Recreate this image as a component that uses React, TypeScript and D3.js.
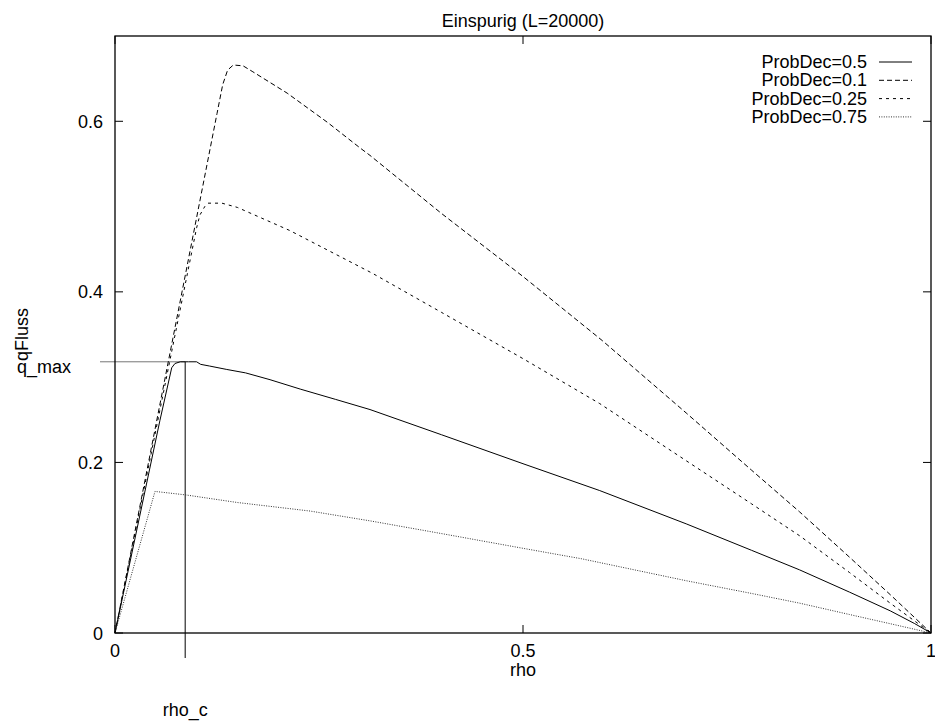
import React from "react";
import * as d3 from "d3";

const title = "Einspurig (L=20000)";
const xLabel = "rho";
const yLabel = "qFluss";
const xTicks = [0, 0.5, 1];
const yTicks = [0, 0.2, 0.4, 0.6];
const xTickLabels = ["0", "0.5", "1"];
const yTickLabels = ["0", "0.2", "0.4", "0.6"];

const rhoC = 0.086;
const qMax = 0.318;

// ProbDec = 0.5 (solid)
const rho05 = [0, 0.055, 0.0695, 0.0735, 0.08, 0.09, 0.1, 0.105, 0.116, 0.137, 0.16, 0.19, 0.227, 0.27, 0.3125, 0.4, 0.5, 0.594, 0.7, 0.78, 0.839, 0.9, 0.95, 0.98, 1];
const q05 = [0, 0.249, 0.311, 0.316, 0.318, 0.318, 0.318, 0.315, 0.313, 0.309, 0.305, 0.297, 0.286, 0.274, 0.262, 0.2325, 0.1985, 0.167, 0.128, 0.097, 0.074, 0.048, 0.026, 0.011, 0];

// ProbDec = 0.1 (dashed)
const rho01 = [0, 0.1, 0.125, 0.132, 0.138, 0.145, 0.157, 0.169, 0.211, 0.26, 0.3, 0.3125, 0.4, 0.5, 0.597, 0.7, 0.78, 0.839, 0.9, 0.95, 1];
const q01 = [0, 0.487, 0.609, 0.643, 0.66, 0.666, 0.665, 0.658, 0.633, 0.599, 0.569, 0.56, 0.492, 0.418, 0.343, 0.258, 0.191, 0.142, 0.089, 0.045, 0];

// ProbDec = 0.25 (short dashes)
const rho025 = [0, 0.1, 0.104, 0.11, 0.114, 0.131, 0.15, 0.214, 0.316, 0.4, 0.5, 0.594, 0.7, 0.78, 0.839, 0.9, 0.95, 1];
const q025 = [0, 0.475, 0.49, 0.5, 0.504, 0.504, 0.499, 0.472, 0.4215, 0.376, 0.3217, 0.269, 0.202, 0.1515, 0.114, 0.071, 0.035, 0];

// ProbDec = 0.75 (dotted)
const rho075 = [0, 0.049, 0.086, 0.15, 0.239, 0.3125, 0.4, 0.5, 0.572, 0.7, 0.78, 0.839, 0.9, 0.95, 1];
const q075 = [0, 0.166, 0.162, 0.153, 0.143, 0.1315, 0.1166, 0.0993, 0.087, 0.0613, 0.0464, 0.035, 0.0217, 0.0109, 0];

const seriesNames = ["ProbDec=0.5", "ProbDec=0.1", "ProbDec=0.25", "ProbDec=0.75"];
const seriesRho = [rho05, rho01, rho025, rho075];
const seriesQ = [q05, q01, q025, q075];
const seriesDash = ["none", "5,3", "3,4", "1,1.4"];
const seriesColor = ["#000", "#000", "#000", "#333"];

export default function App() {
  const W = 935, H = 722;
  const left = 115, right = 931, top = 36, bottom = 633;
  const x = d3.scaleLinear().domain([0, 1]).range([left, right]);
  const y = d3.scaleLinear().domain([0, 0.7]).range([bottom, top]);
  const line = d3.line<[number, number]>().x(d => x(d[0])).y(d => y(d[1]));
  const font = "'Liberation Sans', Arial, Helvetica, sans-serif";
  const fs = 18;
  const tickLen = 8;

  const legendX = 867;
  const legendY0 = 68;
  const legendDy = 18.3;

  return (
    <svg width={W} height={H} style={{ position: "absolute", left: 0, top: 0, background: "#fff" }}
      fontFamily={font} fontSize={fs}>
      <rect x={0} y={0} width={W} height={H} fill="#fff" />
      {/* ticks */}
      {yTicks.map((t, i) => (
        <g key={"yt" + i}>
          <line x1={left} x2={left + tickLen} y1={y(t)} y2={y(t)} stroke="#000" />
          <line x1={right} x2={right - tickLen} y1={y(t)} y2={y(t)} stroke="#000" />
          <text x={103} y={y(t) + 6.5} textAnchor="end">{yTickLabels[i]}</text>
        </g>
      ))}
      {xTicks.map((t, i) => (
        <g key={"xt" + i}>
          <line x1={x(t)} x2={x(t)} y1={bottom} y2={bottom - tickLen} stroke="#000" />
          <line x1={x(t)} x2={x(t)} y1={top} y2={top + tickLen} stroke="#000" />
          <text x={x(t)} y={657} textAnchor="middle">{xTickLabels[i]}</text>
        </g>
      ))}
      {/* rho_c / q_max markers */}
      <line x1={100} x2={x(rhoC)} y1={y(qMax)} y2={y(qMax)} stroke="#777" strokeWidth={1} />
      <line x1={x(rhoC)} x2={x(rhoC)} y1={y(qMax)} y2={658} stroke="#000" strokeWidth={1} />
      <text x={17} y={373}>q_max</text>
      <text x={x(rhoC)} y={716} textAnchor="middle">rho_c</text>
      {/* curves */}
      {seriesNames.map((n, i) => {
        const pts: [number, number][] = seriesRho[i].map((r, j) => [r, seriesQ[i][j]]);
        return (
          <path key={n} d={line(pts) || ""} fill="none" stroke={seriesColor[i]} strokeWidth={1}
            strokeDasharray={seriesDash[i]} />
        );
      })}
      {/* frame */}
      <rect x={left} y={top} width={right - left} height={bottom - top} fill="none" stroke="#000" strokeWidth={1.3} />
      {/* legend */}
      {seriesNames.map((n, i) => (
        <g key={"lg" + i}>
          <text x={legendX} y={legendY0 + i * legendDy} textAnchor="end">{n}</text>
          <line x1={879} x2={912} y1={legendY0 + i * legendDy - 6} y2={legendY0 + i * legendDy - 6}
            stroke={seriesColor[i]} strokeWidth={1} strokeDasharray={seriesDash[i]} />
        </g>
      ))}
      {/* titles */}
      <text x={(left + right) / 2} y={27} textAnchor="middle">{title}</text>
      <text x={(left + right) / 2} y={676} textAnchor="middle">{xLabel}</text>
      <text transform={`translate(28, ${(top + bottom) / 2}) rotate(-90)`} textAnchor="middle">{yLabel}</text>
    </svg>
  );
}
